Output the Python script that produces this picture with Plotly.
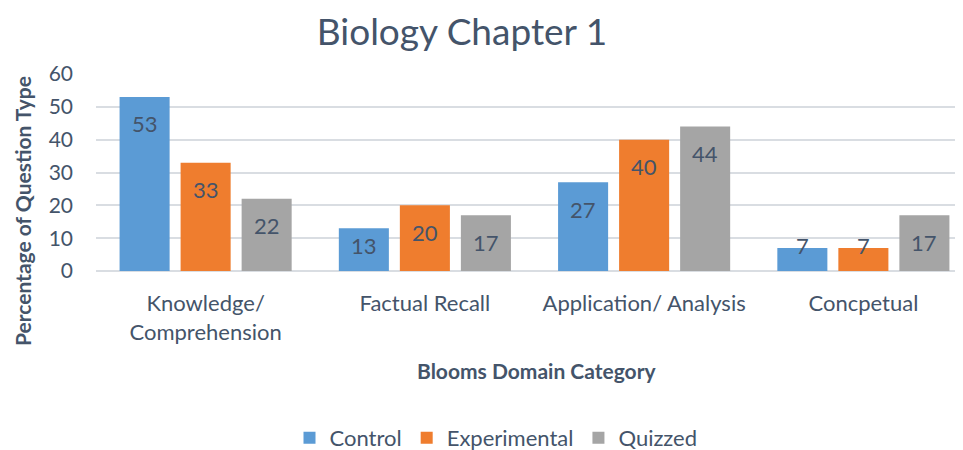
import plotly.graph_objects as go

categories = ["Knowledge/<br>Comprehension", "Factual Recall", "Application/ Analysis", "Concpetual"]
series_names = ["Control", "Experimental", "Quizzed"]
control = [53, 13, 27, 7]
experimental = [33, 20, 40, 7]
quizzed = [22, 17, 44, 17]
y_ticks = [0, 10, 20, 30, 40, 50, 60]

series_values = [control, experimental, quizzed]
colors = ["#5B9BD5", "#EF7D2E", "#A5A5A5"]
TEXT = "#44546A"
FONT = "Lato"

# the page body has an 8px margin: figure sits at (8, 8) in the screenshot
OFF = 8
W, H = 963 - OFF, 450 - OFF
M_L, M_R, M_T, M_B = 88, 3, 66, 179
plot_h = H - M_T - M_B
plot_w = W - M_L - M_R
cat_px = 219.25
x_range = [-0.5, -0.5 + plot_w / cat_px]
y_range = [0, 60]
px_per_unit = plot_h / (y_range[1] - y_range[0])


def px_x(xi):
    return (xi - OFF - M_L) / plot_w


def px_y(yi):
    return (H - M_B - (yi - OFF)) / plot_h


bargap = 0.165
bargroupgap = 0.18

fig = go.Figure()
for name, vals, col in zip(series_names, series_values, colors):
    fig.add_trace(go.Bar(
        name=name, x=list(range(len(categories))), y=vals,
        marker=dict(color=col, line=dict(width=0)),
    ))

# data labels placed like Excel "inside end"
slot = (1 - bargap) / len(series_names)
annotations = []
for j, vals in enumerate(series_values):
    for i, v in enumerate(vals):
        xpos = i + (j - (len(series_names) - 1) / 2) * slot
        if v * px_per_unit > 53:
            y, ys = v, -27
        else:
            y, ys = 0, 26
        annotations.append(dict(
            x=xpos, y=y, xref="x", yref="y", text=str(v), showarrow=False,
            yshift=ys, yanchor="middle", xanchor="center",
            font=dict(family=FONT, size=22, color=TEXT),
        ))

# axis titles
annotations.append(dict(
    text="<b>Percentage of Question Type</b>", textangle=-90, showarrow=False,
    xref="paper", yref="paper", x=px_x(22), y=px_y(211),
    xanchor="center", yanchor="middle",
    font=dict(family=FONT, size=21, color=TEXT),
))
annotations.append(dict(
    text="<b>Blooms Domain Category</b>", showarrow=False,
    xref="paper", yref="paper", x=px_x(536), y=px_y(370),
    xanchor="center", yanchor="middle",
    font=dict(family=FONT, size=21, color=TEXT),
))

fig.update_layout(
    width=W, height=H,
    margin=dict(l=M_L, r=M_R, t=M_T, b=M_B, autoexpand=False),
    paper_bgcolor="white", plot_bgcolor="white",
    barmode="group", bargap=bargap, bargroupgap=bargroupgap,
    font=dict(family=FONT, color=TEXT),
    title=dict(text="Biology Chapter 1", x=(462 - OFF) / W, xref="container", xanchor="center",
               y=1 - (32 - OFF) / H, yref="container", yanchor="middle",
               font=dict(family=FONT, size=37, color=TEXT)),
    showlegend=True,
    legend=dict(orientation="h", x=(496 - OFF) / W, xref="container", xanchor="center",
                y=1 - (438 - OFF) / H, yref="container", yanchor="middle",
                font=dict(family=FONT, size=22, color=TEXT),
                itemwidth=30, traceorder="normal"),
    annotations=annotations,
)
fig.update_xaxes(
    range=x_range, tickmode="array", tickvals=list(range(len(categories))),
    ticktext=categories, showgrid=False, showline=False, zeroline=False,
    ticks="", tickfont=dict(family=FONT, size=22, color=TEXT),
    ticklabelstandoff=17, fixedrange=True,
)
fig.update_yaxes(
    range=y_range, tickmode="array", tickvals=y_ticks,
    showgrid=True, gridcolor="#D9DDE2", gridwidth=1.5,
    zeroline=True, zerolinecolor="#D9DDE2", zerolinewidth=1.5,
    showline=False, ticks="", tickfont=dict(family=FONT, size=21, color=TEXT),
    ticklabelstandoff=22, fixedrange=True,
)

fig.write_html("out.html")
